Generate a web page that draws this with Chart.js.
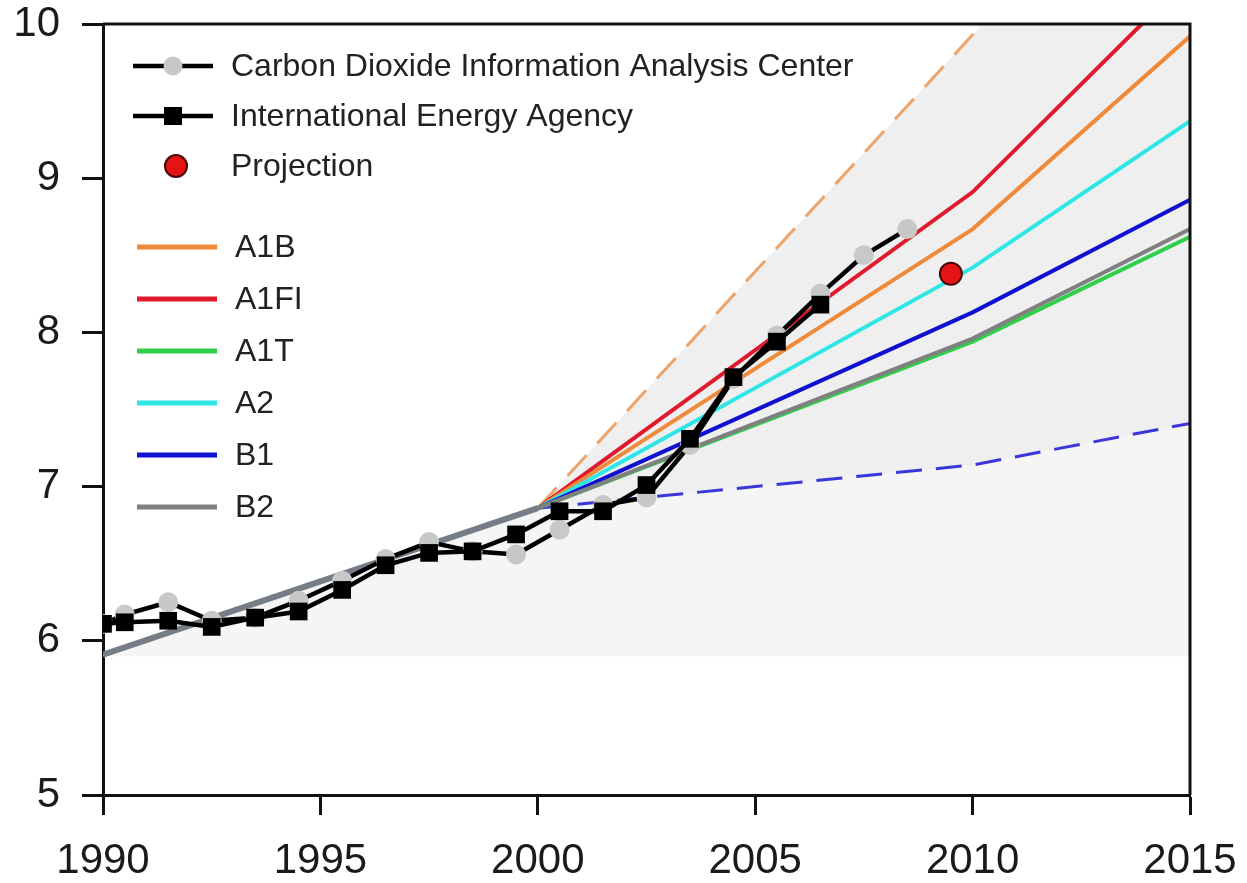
<!DOCTYPE html>
<html>
<head>
<meta charset="utf-8">
<title>CO2 emissions and SRES scenarios</title>
<script src="https://cdn.jsdelivr.net/npm/chart.js@4.4.1/dist/chart.umd.min.js"></script>
<style>
  html, body { margin: 0; padding: 0; background: #ffffff; }
  #wrap { width: 1247px; height: 883px; }
</style>
</head>
<body>
<div id="wrap"><canvas id="emissionsChart" width="1247" height="883"></canvas></div>
<script>
// observed emissions (GtC/yr), markers sit mid-year
const cdiacYears = [1990, 1990.5, 1991.5, 1992.5, 1993.5, 1994.5, 1995.5, 1996.5, 1997.5, 1998.5,
  1999.5, 2000.5, 2001.5, 2002.5, 2003.5, 2004.5, 2005.5, 2006.5, 2007.5, 2008.5];
const cdiacValues = [6.11, 6.17, 6.25, 6.13, 6.15, 6.26, 6.39, 6.53, 6.64, 6.58,
  6.56, 6.72, 6.88, 6.93, 7.27, 7.70, 7.98, 8.25, 8.50, 8.67];

const ieaYears = [1990, 1990.5, 1991.5, 1992.5, 1993.5, 1994.5, 1995.5, 1996.5, 1997.5, 1998.5,
  1999.5, 2000.5, 2001.5, 2002.5, 2003.5, 2004.5, 2005.5, 2006.5];
const ieaValues = [6.11, 6.12, 6.13, 6.09, 6.15, 6.19, 6.33, 6.49, 6.57, 6.58,
  6.69, 6.84, 6.84, 7.01, 7.31, 7.71, 7.94, 8.18];

const projectionYear = 2009.5;
const projectionValue = 8.38;

// common trend before the scenarios split
const trendYears = [1990, 2000];
const trendValues = [5.91, 6.86];

// SRES scenarios
const scenarioYears = [2000, 2010, 2015];
const scenarioNames = ['A1B', 'A1FI', 'A1T', 'A2', 'B1', 'B2'];
const a1bValues = [6.86, 8.67, 9.92];
const a1fiValues = [6.86, 8.91, 10.31];
const a1tValues = [6.86, 7.94, 8.62];
const a2Values = [6.86, 8.42, 9.37];
const b1Values = [6.86, 8.13, 8.86];
const b2Values = [6.86, 7.96, 8.67];

// envelope of the full scenario range
const upperBound = [6.86, 9.93, 11.5];
const lowerBound = [6.86, 7.14, 7.41];
const shadeFloor = 5.9;

const xTickValues = [1990, 1995, 2000, 2005, 2010, 2015];
const xTickLabels = ['1990', '1995', '2000', '2005', '2010', '2015'];
const yTickValues = [5, 6, 7, 8, 9, 10];
const yTickLabels = ['5', '6', '7', '8', '9', '10'];

const observedLabels = ['Carbon Dioxide Information Analysis Center', 'International Energy Agency', 'Projection'];

const SCENARIO_COLORS = {
  A1B: '#ee8a3a',
  A1FI: '#e0192c',
  A1T: '#2ed04a',
  A2: '#2ee6e6',
  B1: '#1010d0',
  B2: '#808080'
};

const FONT = '"Liberation Sans", Arial, Helvetica, sans-serif';

function toPoints(xs, ys) {
  return xs.map((x, i) => ({ x: x, y: ys[i] }));
}

function scenarioDataset(name, values, order) {
  return {
    label: name,
    data: toPoints(scenarioYears, values),
    borderColor: SCENARIO_COLORS[name],
    borderWidth: 4,
    pointRadius: 0,
    fill: false,
    tension: 0,
    order: order
  };
}

// shading outlines: trend up to 2000, then the bounds
const envelopeYears = trendYears.concat(scenarioYears.slice(1));
const envelopeLow = trendValues.concat(lowerBound.slice(1));
const envelopeHigh = trendValues.concat(upperBound.slice(1));

const datasets = [
  {
    label: 'Projection',
    data: [{ x: projectionYear, y: projectionValue }],
    showLine: false,
    pointRadius: 11,
    pointBackgroundColor: '#e41414',
    pointBorderColor: '#4a0505',
    pointBorderWidth: 2,
    order: 0
  },
  {
    label: observedLabels[1],
    data: toPoints(ieaYears, ieaValues),
    borderColor: '#000000',
    borderWidth: 4.5,
    pointStyle: 'rect',
    pointRadius: 12.5,
    pointBackgroundColor: '#000000',
    pointBorderWidth: 0,
    tension: 0,
    order: 1
  },
  {
    label: observedLabels[0],
    data: toPoints(cdiacYears, cdiacValues),
    borderColor: '#000000',
    borderWidth: 4.5,
    pointRadius: 10,
    pointBackgroundColor: '#c8c8c8',
    pointBorderWidth: 0,
    tension: 0,
    order: 2
  },
  {
    label: 'trend',
    data: toPoints(trendYears, trendValues),
    borderColor: '#767d87',
    borderWidth: 6,
    pointRadius: 0,
    order: 3
  },
  scenarioDataset('B2', b2Values, 4),
  scenarioDataset('A1T', a1tValues, 5),
  scenarioDataset('B1', b1Values, 6),
  scenarioDataset('A2', a2Values, 7),
  scenarioDataset('A1B', a1bValues, 8),
  scenarioDataset('A1FI', a1fiValues, 9),
  {
    label: 'lower bound',
    data: toPoints(scenarioYears, lowerBound),
    borderColor: '#3a36dc',
    borderWidth: 3,
    borderDash: [26, 14],
    pointRadius: 0,
    order: 10
  },
  {
    label: 'upper bound',
    data: toPoints(scenarioYears, upperBound),
    borderColor: '#eda46a',
    borderWidth: 3,
    borderDash: [28, 16],
    pointRadius: 0,
    order: 11
  },
  {
    label: 'envelope high',
    data: toPoints(envelopeYears, envelopeHigh),
    borderWidth: 0,
    borderColor: 'rgba(0,0,0,0)',
    pointRadius: 0,
    fill: { target: 13, above: '#efefef', below: '#efefef' },
    backgroundColor: '#efefef',
    order: 12
  },
  {
    label: 'envelope low',
    data: toPoints(envelopeYears, envelopeLow),
    borderWidth: 0,
    borderColor: 'rgba(0,0,0,0)',
    pointRadius: 0,
    fill: { value: shadeFloor, above: '#f5f5f5', below: '#f5f5f5' },
    backgroundColor: '#f5f5f5',
    order: 13
  }
];

// box lines on top and right of the plot area
const framePlugin = {
  id: 'frame',
  afterDatasetsDraw(chart) {
    const a = chart.chartArea;
    const ctx = chart.ctx;
    ctx.save();
    ctx.strokeStyle = '#111111';
    ctx.lineWidth = 3;
    ctx.beginPath();
    ctx.moveTo(a.left, a.top);
    ctx.lineTo(a.right, a.top);
    ctx.lineTo(a.right, a.bottom);
    ctx.stroke();
    ctx.restore();
  }
};

// legend drawn inside the plot, upper left
const legendPlugin = {
  id: 'insideLegend',
  afterDraw(chart) {
    const a = chart.chartArea;
    const ctx = chart.ctx;
    ctx.save();
    ctx.font = '32px ' + FONT;
    ctx.textBaseline = 'middle';
    ctx.textAlign = 'left';

    // observed rows
    observedLabels.forEach((label, i) => {
      const y = a.top + 42 + i * 50;
      const cx = a.left + 70;
      if (i < 2) {
        ctx.strokeStyle = '#000000';
        ctx.lineWidth = 4.5;
        ctx.beginPath();
        ctx.moveTo(a.left + 30, y);
        ctx.lineTo(a.left + 110, y);
        ctx.stroke();
      }
      if (i === 0) {
        ctx.fillStyle = '#c8c8c8';
        ctx.beginPath();
        ctx.arc(cx, y, 9.5, 0, Math.PI * 2);
        ctx.fill();
      } else if (i === 1) {
        ctx.fillStyle = '#000000';
        ctx.fillRect(cx - 9, y - 9, 18, 18);
      } else {
        ctx.fillStyle = '#e41414';
        ctx.strokeStyle = '#4a0505';
        ctx.lineWidth = 2;
        ctx.beginPath();
        ctx.arc(cx + 3, y, 11, 0, Math.PI * 2);
        ctx.fill();
        ctx.stroke();
      }
      ctx.fillStyle = '#222222';
      ctx.fillText(label, a.left + 128, y + 1);
    });

    // scenario rows
    scenarioNames.forEach((name, i) => {
      const y = a.top + 223 + i * 52;
      ctx.strokeStyle = SCENARIO_COLORS[name];
      ctx.lineWidth = 5;
      ctx.beginPath();
      ctx.moveTo(a.left + 34, y);
      ctx.lineTo(a.left + 114, y);
      ctx.stroke();
      ctx.fillStyle = '#222222';
      ctx.fillText(name, a.left + 132, y + 1);
    });
    ctx.restore();
  }
};

document.addEventListener('DOMContentLoaded', () => {
  const ctx = document.getElementById('emissionsChart');

  new Chart(ctx, {
    type: 'line',
    data: { datasets: datasets },
    options: {
      responsive: false,
      animation: false,
      devicePixelRatio: 1,
      layout: { padding: { top: 24, right: 57, left: 0, bottom: 0 } },
      plugins: {
        legend: { display: false },
        tooltip: { enabled: false },
        filler: { drawTime: 'beforeDatasetsDraw' }
      },
      scales: {
        x: {
          type: 'linear',
          min: 1990,
          max: 2015,
          afterFit: (scale) => {
            scale.height = 88;
            scale.paddingLeft = 0;
            scale.paddingRight = 0;
          },
          afterBuildTicks: (scale) => { scale.ticks = xTickValues.map(v => ({ value: v })); },
          grid: {
            drawOnChartArea: false,
            drawTicks: true,
            tickLength: 20,
            tickWidth: 3,
            tickColor: '#111111'
          },
          border: { display: true, color: '#111111', width: 3 },
          ticks: {
            padding: 21,
            color: '#1a1a1a',
            font: { family: FONT, size: 42 },
            maxRotation: 0,
            callback: (value) => xTickLabels[xTickValues.indexOf(value)] || ''
          }
        },
        y: {
          type: 'linear',
          min: 5,
          max: 10,
          afterFit: (scale) => {
            scale.width = 103;
            scale.paddingTop = 0;
            scale.paddingBottom = 0;
          },
          afterBuildTicks: (scale) => { scale.ticks = yTickValues.map(v => ({ value: v })); },
          grid: {
            drawOnChartArea: false,
            drawTicks: true,
            tickLength: 21,
            tickWidth: 3,
            tickColor: '#111111'
          },
          border: { display: true, color: '#111111', width: 3 },
          ticks: {
            padding: 22,
            color: '#1a1a1a',
            font: { family: FONT, size: 42 },
            callback: (value) => yTickLabels[yTickValues.indexOf(value)] || ''
          }
        }
      }
    },
    plugins: [framePlugin, legendPlugin]
  });
});
</script>
</body>
</html>
